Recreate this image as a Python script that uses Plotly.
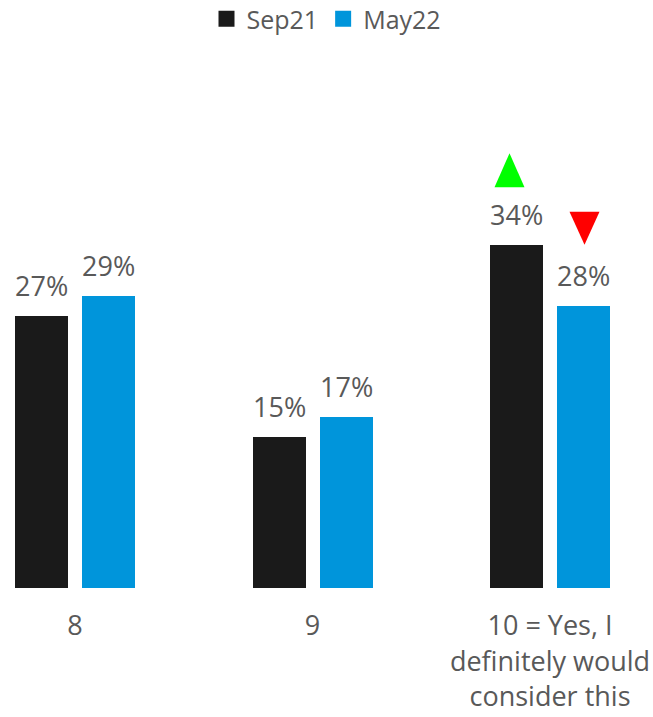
import plotly.graph_objects as go

# Survey answers and the share of respondents per wave
categories = ["8", "9", "10 = Yes, I<br>definitely would<br>consider this"]
sep21 = [27, 15, 34]
may22 = [29, 17, 28]
series_names = ["Sep21", "May22"]

# significance markers: (series index, category index, direction)
sig_flags = [(0, 2, "up"), (1, 2, "down")]

BLACK = "#1a1a1a"
BLUE = "#0095db"
TEXT = "#595959"
FONT = "Open Sans"
FS = 27

BAR_W = 0.2232
OFFSETS = [-0.2526, 0.0295]

x_pos = list(range(len(categories)))
fig = go.Figure()

for name, vals, col, off in zip(series_names, [sep21, may22], [BLACK, BLUE], OFFSETS):
    fig.add_trace(go.Bar(
        x=x_pos, y=vals, name=name, marker=dict(color=col, line=dict(width=0)),
        width=BAR_W, offset=off, showlegend=False, hoverinfo="skip",
    ))
    # legend swatch
    fig.add_trace(go.Scatter(
        x=[None], y=[None], mode="markers", name=name,
        marker=dict(symbol="square", size=20, color=col),
    ))
    # value labels above each bar
    for xi, v in zip(x_pos, vals):
        fig.add_annotation(
            x=xi + off + BAR_W / 2, y=v, xref="x", yref="y",
            text=f"{v}%", showarrow=False, yanchor="bottom", yshift=10,
            font=dict(family=FONT, size=FS, color=TEXT),
        )

# triangles flagging significant change
all_vals = [sep21, may22]
for si, ci, direction in sig_flags:
    xc = ci + OFFSETS[si] + BAR_W / 2
    v = all_vals[si][ci]
    if direction == "up":
        path = "M -22,58 L 8,58 L -7,92 Z"
        col = "#00ff00"
    else:
        path = "M -14,94 L 16,94 L 1,61 Z"
        col = "#ff0000"
    fig.add_shape(
        type="path", xref="x", yref="y", xsizemode="pixel", ysizemode="pixel",
        xanchor=xc, yanchor=v, path=path,
        fillcolor=col, line=dict(width=0),
    )

fig.update_layout(
    width=653, height=717,
    margin=dict(l=0, r=0, t=40, b=129),
    paper_bgcolor="white", plot_bgcolor="white",
    font=dict(family=FONT, size=FS, color=TEXT),
    legend=dict(
        orientation="h", x=0.5, xanchor="center", y=0.9735, yanchor="middle",
        yref="container", font=dict(family=FONT, size=25, color=TEXT),
        itemclick=False, itemdoubleclick=False, tracegroupgap=0, itemwidth=30,
    ),
    xaxis=dict(
        range=[-0.3158, 2.4337], tickvals=x_pos, ticktext=categories,
        showgrid=False, zeroline=False, showline=False,
        ticks="outside", ticklen=14, tickcolor="rgba(0,0,0,0)",
        tickfont=dict(family=FONT, size=FS, color=TEXT),
    ),
    yaxis=dict(range=[0, 54.15], visible=False),
    bargap=0,
)

fig.write_html("out.html")
